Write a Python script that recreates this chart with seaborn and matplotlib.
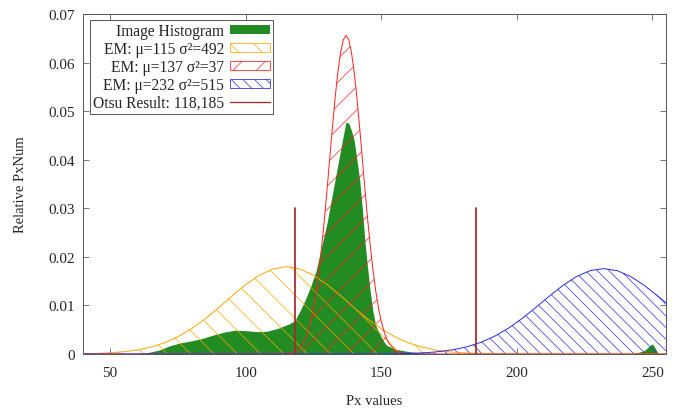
import numpy as np
import pandas as pd
import seaborn as sns
import matplotlib
matplotlib.use("Agg")
import matplotlib.pyplot as plt
from matplotlib.patches import Patch
from matplotlib.lines import Line2D

# image histogram (relative pixel counts)
hist_px = [40, 50, 55, 60, 64, 68, 72, 76, 80, 84, 88, 92, 96, 100, 104, 108,
           112, 116, 118, 120, 122, 124, 126, 128, 130, 132, 134, 136, 137,
           138, 139, 140, 141, 142, 143, 144, 145, 146, 147, 148, 150, 151,
           152, 155, 160, 165, 172, 180, 240, 244, 247, 249, 250, 251, 252,
           253, 255]
hist_val = [0, 0, 0, 0.0001, 0.0003, 0.0008, 0.0017, 0.0023, 0.0027, 0.0032,
            0.0039, 0.0045, 0.0049, 0.0048, 0.0046, 0.0047, 0.0053, 0.0062,
            0.0068, 0.0088, 0.0112, 0.0140, 0.0172, 0.0222, 0.0270, 0.0330,
            0.0390, 0.0450, 0.0478, 0.0475, 0.0460, 0.0440, 0.0400, 0.0360,
            0.0300, 0.0230, 0.0175, 0.0125, 0.0085, 0.0058, 0.0035, 0.0025,
            0.0018, 0.0010, 0.0005, 0.0002, 0.0001, 0, 0, 0.0002, 0.0007,
            0.0017, 0.0021, 0.0012, 0.0002, 0, 0]

# EM component 1 (mu=115, var=492)
em1_px = [40, 45, 50, 55, 60, 65, 70, 75, 80, 85, 90, 95, 100, 105, 110, 115,
          120, 125, 130, 135, 140, 145, 150, 155, 160, 165, 170, 175, 180,
          185, 190, 200, 255]
em1_val = [0.00006, 0.00012, 0.00025, 0.00046, 0.00083, 0.00142, 0.0023,
           0.00354, 0.0052, 0.0072, 0.0095, 0.0120, 0.0143, 0.0162, 0.0175,
           0.0180, 0.0175, 0.0162, 0.0143, 0.0120, 0.0095, 0.0072, 0.0052,
           0.00354, 0.0023, 0.00142, 0.00083, 0.00046, 0.00025, 0.00012,
           0.00006, 0.00001, 0]

# EM component 2 (mu=137, var=37)
em2_px = [40, 107, 112, 115, 117, 119, 121, 122, 123, 124, 125, 126, 127, 128,
          129, 130, 131, 132, 133, 134, 135, 136, 137, 138, 139, 140, 141,
          142, 143, 144, 145, 146, 147, 148, 149, 150, 151, 152, 153, 155,
          157, 159, 162, 167, 255]
em2_val = [0, 0, 0.00001, 0.0001, 0.00029, 0.00082, 0.00207, 0.00312,
           0.00463, 0.0067, 0.0094, 0.0128, 0.0170, 0.0220, 0.0276, 0.0338,
           0.0403, 0.0468, 0.0528, 0.0581, 0.0621, 0.0647, 0.0656, 0.0647,
           0.0621, 0.0581, 0.0528, 0.0468, 0.0403, 0.0338, 0.0276, 0.0220,
           0.0170, 0.0128, 0.0094, 0.0067, 0.00463, 0.00312, 0.00207,
           0.00082, 0.00029, 0.0001, 0.00001, 0, 0]

# EM component 3 (mu=232, var=515)
em3_px = [40, 150, 157, 162, 167, 172, 177, 182, 187, 192, 197, 202, 207, 212,
          217, 222, 227, 232, 237, 242, 247, 252, 255]
em3_val = [0, 0.00002, 0.00007, 0.00015, 0.00029, 0.00053, 0.00093, 0.00155,
           0.00246, 0.00372, 0.00535, 0.00734, 0.00958, 0.01192, 0.01413,
           0.01595, 0.01716, 0.01758, 0.01716, 0.01595, 0.01413, 0.01192,
           0.01052]

otsu_thresholds = [118, 185]
otsu_height = 0.03

labels = ["Image Histogram", "EM: μ=115 σ²=492", "EM: μ=137 σ²=37",
          "EM: μ=232 σ²=515", "Otsu Result: 118,185"]
xticks = [50, 100, 150, 200, 250]
yticks = [0, 0.01, 0.02, 0.03, 0.04, 0.05, 0.06, 0.07]
ytick_labels = ["0", "0.01", "0.02", "0.03", "0.04", "0.05", "0.06", "0.07"]

green = "#228b22"
orange = "#ffa500"
red = "#ff2020"
blue = "#2a2aee"
brown = "#a52a2a"

sns.set_style("ticks")
plt.rcParams["font.family"] = ["Liberation Serif", "DejaVu Serif"]
plt.rcParams["hatch.linewidth"] = 0.7

# low dpi so the hatch spacing matches the reference
DPI = 70
fig = plt.figure(figsize=(685 / DPI, 411 / DPI), dpi=DPI)
ax = fig.add_axes([83 / 685, 56 / 411, 583 / 685, 340 / 411])

ax.fill_between(hist_px, hist_val, 0, color=green, lw=0, zorder=1)

em = [(em1_px, em1_val, orange, "\\"),
      (em2_px, em2_val, red, "/"),
      (em3_px, em3_val, blue, "\\\\")]
for px, val, col, hatch in em:
    ax.fill_between(px, val, 0, facecolor="none", edgecolor=col,
                    hatch=hatch, lw=0, zorder=2)
    df = pd.DataFrame({"px": px, "val": val})
    sns.lineplot(data=df, x="px", y="val", ax=ax, color=col, lw=1.0,
                 zorder=3, sort=False)

for t in otsu_thresholds:
    ax.plot([t, t], [0, otsu_height], color=brown, lw=1.8, zorder=4)

ax.set_xlim(40, 255)
ax.set_ylim(0, 0.07)
ax.set_xticks(xticks)
ax.set_yticks(yticks)
ax.set_yticklabels(ytick_labels)
ax.tick_params(direction="in", length=6, width=0.8, color="#555555",
               labelsize=15.5, top=True, right=True)
ax.tick_params(axis="x", pad=12)
ax.tick_params(axis="y", pad=8)
for s in ax.spines.values():
    s.set_visible(True)
    s.set_color("#555555")
    s.set_linewidth(1.0)
ax.set_xlabel("Px values", fontsize=15, labelpad=16)
ax.set_ylabel("Relative PxNum", fontsize=15, labelpad=22)

handles = [Patch(facecolor=green, edgecolor="none"),
           Patch(facecolor="none", edgecolor=orange, hatch="\\", lw=0.8),
           Patch(facecolor="none", edgecolor=red, hatch="/", lw=0.8),
           Patch(facecolor="none", edgecolor=blue, hatch="\\\\", lw=0.8),
           Line2D([0], [0], color=brown, lw=1.3)]
leg = ax.legend(handles, labels, loc="upper left",
                bbox_to_anchor=(7 / 583, 1 - 6 / 340), borderaxespad=0,
                markerfirst=False, fontsize=16, handlelength=2.6,
                handleheight=0.5, labelspacing=0.12, handletextpad=0.35,
                borderpad=0.2, fancybox=False, framealpha=1,
                edgecolor="#555555")
leg.get_frame().set_linewidth(1.0)

fig.savefig("out.png", dpi=DPI)
